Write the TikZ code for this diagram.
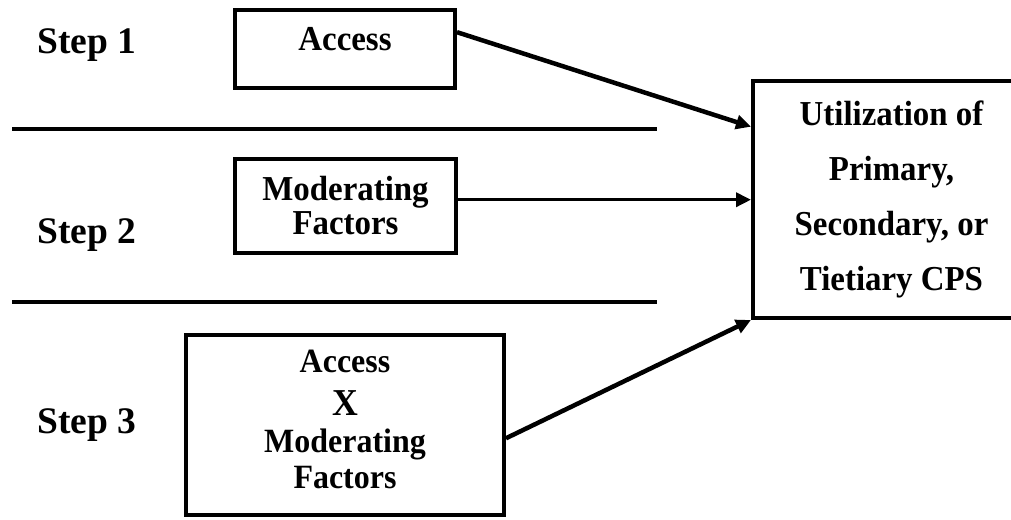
\documentclass[tikz,border=0pt]{standalone}
\usepackage{fontspec}
\setmainfont{Liberation Serif}
\newfontfamily\boxfont{Liberation Serif}[FakeStretch=0.94]
\usetikzlibrary{arrows.meta,calc}
\begin{document}
\begin{tikzpicture}[x=1pt,y=-1pt,
  box/.style={draw, line width=4pt, inner sep=0pt, align=center,
    font=\boxfont\bfseries\fontsize{35}{34}\selectfont},
  steplabel/.style={anchor=base west, inner sep=0pt,
    font=\bfseries\fontsize{37.5}{40}\selectfont},
  divider/.style={line width=4pt},
  conn/.style={-{Triangle[length=15pt,width=14pt]}, line width=4.5pt},
]
\useasboundingbox (0,0) rectangle (1011,519);
\clip (0,0) rectangle (1011,519);

% step labels
\node[steplabel] (s1) at (37,53) {Step 1};
\node[steplabel] (s2) at (37,243) {Step 2};
\node[steplabel] (s3) at (37,433) {Step 3};

% boxes
\node[box, minimum width=220pt, minimum height=78pt, text depth=20pt] (access) at (345,49) {Access};
\node[box, minimum width=221pt, minimum height=94pt] (mod) at (345.5,206) {Moderating\\Factors};
\node[box, minimum width=318pt, minimum height=180pt,
  font=\boxfont\bfseries\fontsize{34}{36}\selectfont] (inter) at (345,425)
  {Access\\[7pt]{\fontsize{38}{40}\selectfont X}\\[1pt]Moderating\\Factors\rule[-12pt]{0pt}{12pt}};
\node[box, minimum width=277pt, minimum height=237pt,
  font=\boxfont\bfseries\fontsize{35}{55}\selectfont] (util) at (891.5,199.5)
  {Utilization of\\Primary,\\Secondary, or\\Tietiary CPS};

% dividers
\coordinate (d1a) at (12,129);
\coordinate (d1b) at (657,129);
\coordinate (d2a) at (12,302);
\coordinate (d2b) at (657,302);
\draw[divider] (d1a) -- (d1b);
\draw[divider] (d2a) -- (d2b);

% connectors
\coordinate (aS) at ($(access.north east)!0.295!(access.south east)$);
\coordinate (aT) at ($(util.north west)!0.198!(util.south west)$);
\draw[conn] (aS) -- (aT);
\coordinate (mS) at ($(mod.north east)!0.436!(mod.south east)$);
\draw[conn, line width=3.5pt] (mS) -- (mS -| util.west);
\coordinate (iS) at ($(inter.north east)!0.572!(inter.south east)$);
\draw[conn] (iS) -- (util.south west);
\end{tikzpicture}
\end{document}
